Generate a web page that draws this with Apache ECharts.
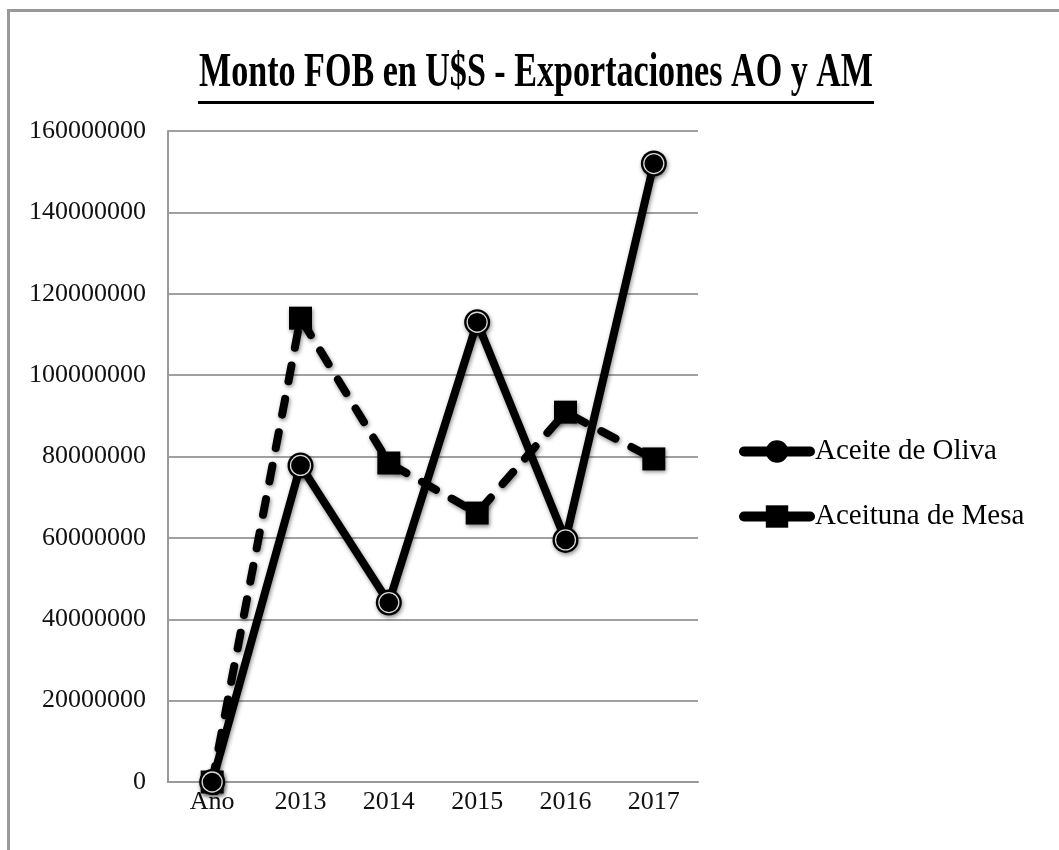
<!DOCTYPE html>
<html>
<head>
<meta charset="utf-8">
<script src="https://cdn.jsdelivr.net/npm/echarts@6/dist/echarts.min.js"></script>
<style>
html,body{margin:0;padding:0;background:#fff;}
#chart{width:1059px;height:850px;}
</style>
</head>
<body>
<div id="chart"></div>
<script>
var titleText = 'Monto FOB en U$S - Exportaciones AO y AM';
var categories = ['Año', '2013', '2014', '2015', '2016', '2017'];
var aceiteOliva = [0, 77800000, 44100000, 113000000, 59500000, 152000000];
var aceitunaMesa = [0, 114000000, 78400000, 66100000, 90900000, 79400000];
var yTicks = {min: 0, max: 160000000, interval: 20000000};
var seriesNames = ['Aceite de Oliva', 'Aceituna de Mesa'];

var chart = echarts.init(document.getElementById('chart'), null, {renderer: 'canvas'});
var serif = '"Liberation Serif", "DejaVu Serif", serif';
var shadow = {shadowBlur: 4, shadowColor: 'rgba(0,0,0,0.45)', shadowOffsetY: 2, shadowOffsetX: 1};

var option = {
  backgroundColor: '#fff',
  animation: false,
  graphic: [
    {type: 'rect', shape: {x: 8.5, y: 10.5, width: 1200, height: 1000},
     style: {fill: 'none', stroke: '#999', lineWidth: 3}, silent: true, z: 0},
    {type: 'text', x: 536, y: 74, scaleX: 0.71, scaleY: 1,
     style: {text: titleText, fontSize: 48, fontWeight: 'bold', fontFamily: serif,
             fill: '#000', align: 'center', verticalAlign: 'middle'}, z: 10},
    {type: 'line', shape: {x1: 198, y1: 102.5, x2: 874, y2: 102.5},
     style: {stroke: '#000', lineWidth: 3}, z: 10}
  ],
  grid: {left: 168, right: 361, top: 131, bottom: 68},
  legend: {
    orient: 'vertical', left: 734, top: 432,
    itemWidth: 66, itemHeight: 28, itemGap: 36,
    textStyle: {fontFamily: serif, fontSize: 29, color: '#000', lineHeight: 29},
    data: [
      {name: seriesNames[0], lineStyle: {width: 10, type: 'solid', cap: 'round'}},
      {name: seriesNames[1], lineStyle: {width: 10, type: 'solid', cap: 'round'}}
    ]
  },
  xAxis: {
    type: 'category', data: categories, boundaryGap: true,
    axisLine: {show: true, lineStyle: {color: '#999', width: 2}},
    axisTick: {show: false},
    axisLabel: {fontFamily: serif, fontSize: 26, color: '#111', margin: 7}
  },
  yAxis: {
    type: 'value', min: yTicks.min, max: yTicks.max, interval: yTicks.interval,
    axisLine: {show: true, lineStyle: {color: '#999', width: 2}},
    axisTick: {show: false},
    splitLine: {show: true, lineStyle: {color: '#a0a0a0', width: 2}},
    axisLabel: {fontFamily: serif, fontSize: 26, color: '#111', margin: 22,
                formatter: function (v) { return String(v); }}
  },
  series: [
    {
      name: seriesNames[1], type: 'line', data: aceitunaMesa,
      symbol: 'rect', symbolSize: 23, z: 3,
      lineStyle: Object.assign({color: '#000', width: 8, type: [16, 18], cap: 'round'}, shadow),
      itemStyle: Object.assign({color: '#000'}, shadow)
    },
    {
      name: seriesNames[0], type: 'line', data: aceiteOliva,
      symbol: 'circle', symbolSize: 26, z: 4,
      lineStyle: Object.assign({color: '#000', width: 8, cap: 'round', join: 'round'}, shadow),
      itemStyle: Object.assign({color: '#000'}, shadow)
    },
    {
      name: 'ring', type: 'line', data: aceiteOliva, silent: true,
      symbol: 'circle', symbolSize: 20, z: 5,
      lineStyle: {width: 0, opacity: 0},
      itemStyle: {color: '#000', borderColor: '#d8d8d8', borderWidth: 1.3}
    }
  ]
};
chart.setOption(option);
</script>
</body>
</html>
